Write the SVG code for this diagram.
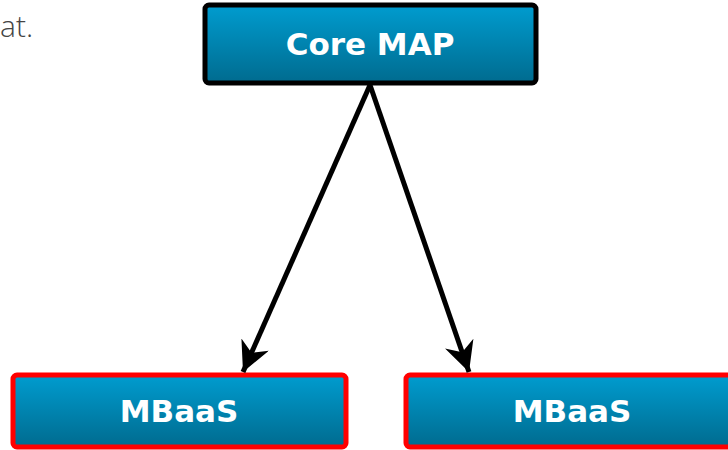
<svg xmlns="http://www.w3.org/2000/svg" width="728" height="450" viewBox="0 0 728 450">
<style>
.lbl{font-family:"DejaVu Sans",Verdana,sans-serif;font-weight:bold;font-size:31px;fill:#fff;text-anchor:middle}
.core{fill:url(#g);stroke:#000;stroke-width:5}
.mb{fill:url(#g);stroke:#f00;stroke-width:5}
.conn{stroke:#000;stroke-width:5;fill:none}
</style>
<defs>
<linearGradient id="g" x1="0" y1="0" x2="0" y2="1">
<stop offset="0" stop-color="#009ccf"/>
<stop offset="1" stop-color="#006b8f"/>
</linearGradient>
<marker id="ah" viewBox="0 0 10 10" refX="10" refY="5" markerWidth="6" markerHeight="6" orient="auto" markerUnits="strokeWidth">
<path d="M0,0 L10,5 L0,10 L3,5 Z" fill="#000"/>
</marker>
</defs>
<text x="0" y="37" font-family="'Open Sans',sans-serif" font-weight="300" font-size="30" fill="#444">at.</text>
<g id="core">
<rect class="core" x="205" y="5" width="331" height="78" rx="4"/>
<text class="lbl" x="370" y="55">Core MAP</text>
</g>
<g id="mbaas1">
<rect class="mb" x="13" y="375" width="333" height="72" rx="4"/>
<text class="lbl" x="179" y="422">MBaaS</text>
</g>
<g id="mbaas2">
<rect class="mb" x="406" y="375" width="334" height="72" rx="4"/>
<text class="lbl" x="572" y="422">MBaaS</text>
</g>
<g id="connectors">
<line class="conn" x1="370" y1="85" x2="243" y2="372" marker-end="url(#ah)"/>
<line class="conn" x1="370" y1="85" x2="469" y2="372" marker-end="url(#ah)"/>
</g>
</svg>
